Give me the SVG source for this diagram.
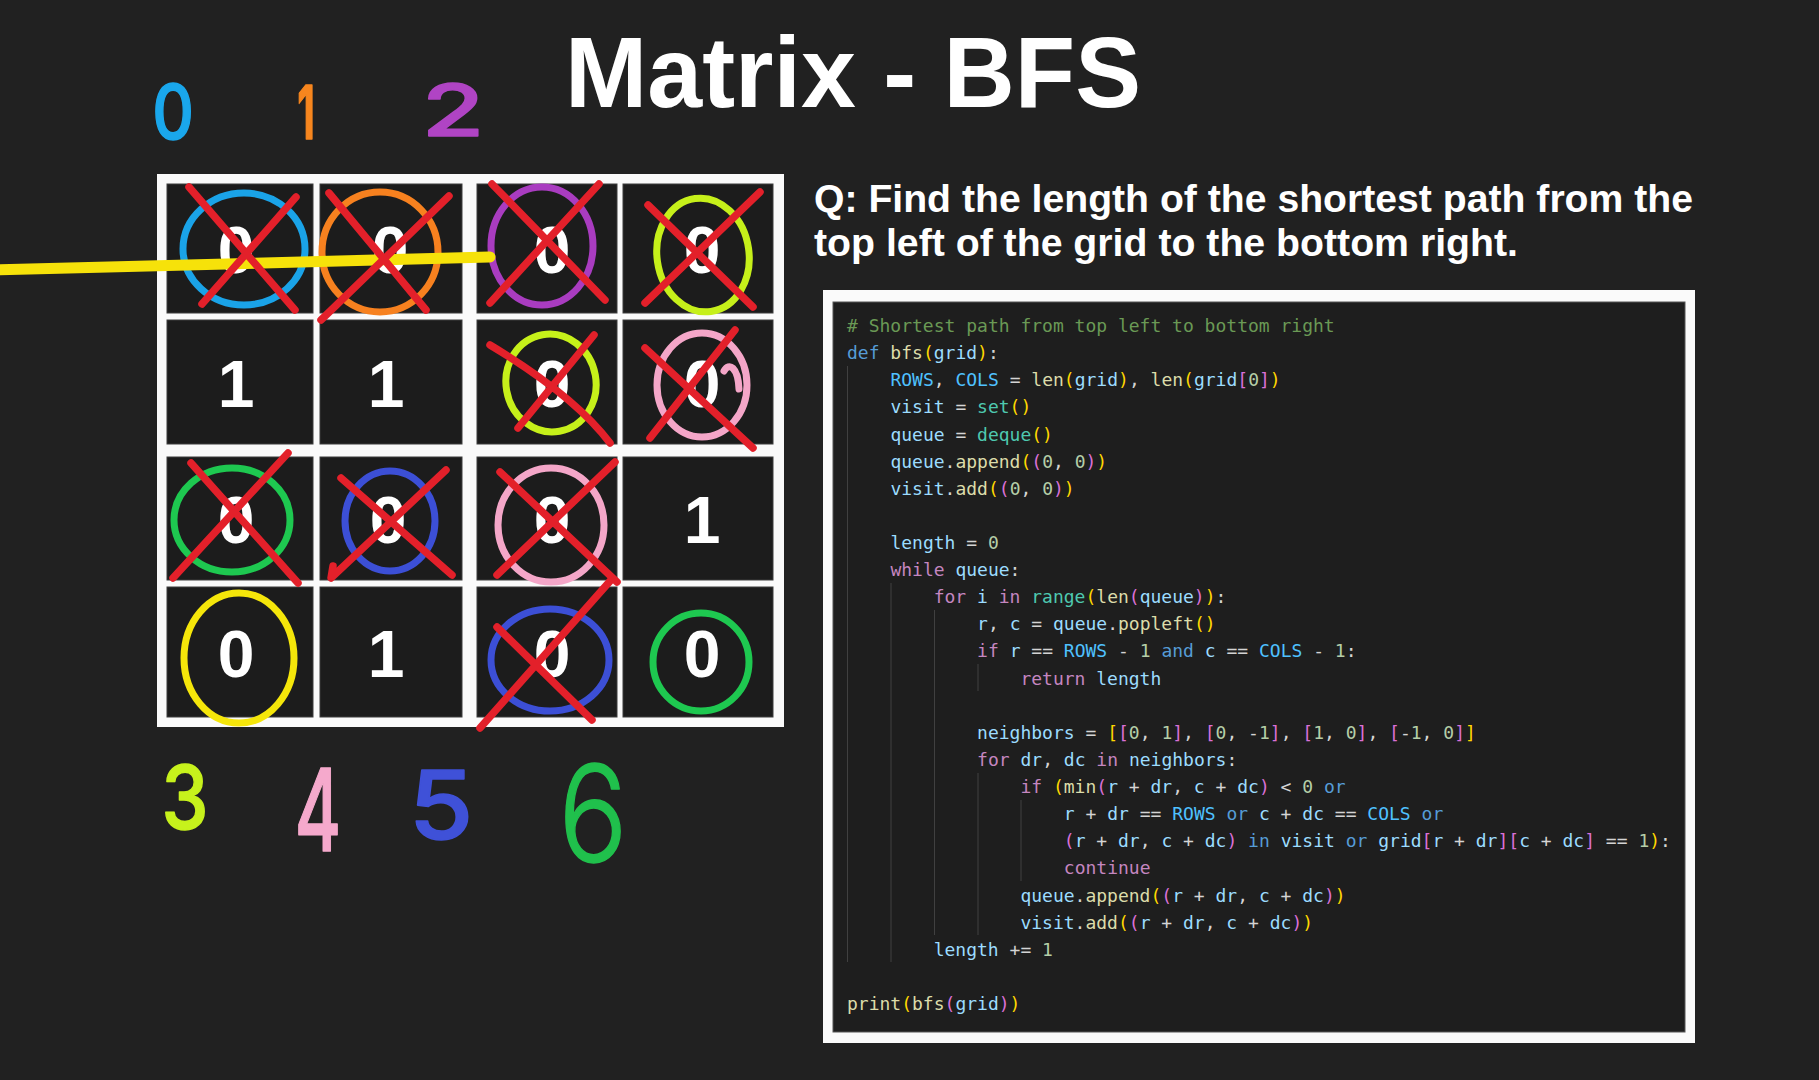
<svg xmlns="http://www.w3.org/2000/svg" width="1819" height="1080" viewBox="0 0 1819 1080">
  <style>
    .title { font-family: "Liberation Sans", Arial, sans-serif; font-weight: bold; fill: #ffffff; }
    .cellbg { fill: #1c1c1c; stroke: #3c3c3c; stroke-width: 1; }
    .digit { font-family: "Liberation Sans", Arial, sans-serif; font-weight: bold; font-size: 66px; fill: #ffffff; text-anchor: middle; }
    .hand { font-family: Inter, "DejaVu Sans", sans-serif; text-anchor: middle; stroke-width: 1.5; stroke-linejoin: round; }
    .ring { fill: none; stroke-width: 7; stroke-linecap: round; }
    .x { fill: none; stroke: #e3202a; stroke-width: 7.5; stroke-linecap: round; stroke-linejoin: round; }
    .code { font-family: "DejaVu Sans Mono", "Liberation Mono", monospace; font-size: 18px; white-space: pre; }
    .guide { stroke: #404040; stroke-width: 1; }
    .cm { fill: #6a9955; } .kw { fill: #569cd6; } .ct { fill: #c586c0; } .fn { fill: #dcdcaa; }
    .cl { fill: #4ec9b0; } .v { fill: #9cdcfe; } .k { fill: #4fc1ff; } .n { fill: #b5cea8; }
    .o { fill: #d4d4d4; } .b1 { fill: #ffd700; } .b2 { fill: #da70d6; }
  </style>

  <rect width="1819" height="1080" fill="#212121"/>

  <!-- heading -->
  <text class="title" x="565" y="107" font-size="100" textLength="576" lengthAdjust="spacingAndGlyphs">Matrix - BFS</text>

  <!-- column / step labels written by hand -->
  <g id="labels-top">
    <text class="hand" x="173" y="139" font-size="76" font-weight="500" fill="#1aa7ec" stroke="#1aa7ec" transform="translate(173 139) scale(0.85 1) translate(-173 -139)">0</text>
    <text class="hand" x="306" y="139" font-size="74" font-weight="700" fill="#f7861e" stroke="#f7861e" transform="translate(306 139) scale(0.55 1) translate(-306 -139)">1</text>
    <text class="hand" x="453" y="136" font-size="72" font-weight="450" fill="#b044c4" stroke="#b044c4" transform="translate(453 136) scale(1.4 1) translate(-453 -136)">2</text>
  </g>
  <g id="labels-bottom">
    <text class="hand" x="185" y="829" font-size="88" font-weight="450" fill="#c7f21c" stroke="#c7f21c" transform="translate(185 829) scale(0.85 1) translate(-185 -829)">3</text>
    <text class="hand" x="318" y="851" font-size="114" font-weight="450" fill="#f5a9cc" stroke="#f5a9cc" transform="translate(318 851) scale(0.62 1) translate(-318 -851)">4</text>
    <text class="hand" x="441" y="839" font-size="95" font-weight="450" fill="#3f51d8" stroke="#3f51d8" transform="translate(441 839) scale(1.1 1) translate(-441 -839)">5</text>
    <text class="hand" x="593" y="862" font-size="135" font-weight="350" fill="#20c04c" stroke="#20c04c" transform="translate(593 862) scale(0.85 1) translate(-593 -862)">6</text>
  </g>

  <!-- grid frame -->
  <rect x="157" y="174" width="627" height="553" fill="#fafafa"/>

  <!-- row 0 -->
  <g id="cell-0-0">
    <rect class="cellbg" x="167" y="184" width="146" height="129"/>
    <text class="digit" x="236" y="273">0</text>
    <ellipse class="ring" cx="244" cy="249" rx="61" ry="56" stroke="#1aa3e8"/>
  </g>
  <g id="cell-0-1">
    <rect class="cellbg" x="320" y="184" width="142" height="129"/>
    <text class="digit" x="390" y="273">0</text>
    <ellipse class="ring" cx="380" cy="252" rx="58" ry="60" stroke="#f7811f"/>
  </g>
  <g id="cell-0-2">
    <rect class="cellbg" x="477" y="184" width="140" height="129"/>
    <text class="digit" x="552" y="273">0</text>
    <ellipse class="ring" cx="542" cy="246" rx="51" ry="59" stroke="#a93cc0"/>
  </g>
  <g id="cell-0-3">
    <rect class="cellbg" x="623" y="184" width="150" height="129"/>
    <text class="digit" x="702" y="273">0</text>
    <ellipse class="ring" cx="703" cy="255" rx="46" ry="57" stroke="#c6f01a" transform="rotate(-8 703 255)"/>
  </g>

  <!-- row 1 -->
  <g id="cell-1-0">
    <rect class="cellbg" x="167" y="320" width="146" height="124"/>
    <text class="digit" x="236" y="407">1</text>
  </g>
  <g id="cell-1-1">
    <rect class="cellbg" x="320" y="320" width="142" height="124"/>
    <text class="digit" x="386" y="407">1</text>
  </g>
  <g id="cell-1-2">
    <rect class="cellbg" x="477" y="320" width="140" height="124"/>
    <text class="digit" x="552" y="407">0</text>
    <ellipse class="ring" cx="551" cy="383" rx="45" ry="49" stroke="#c6f01a" transform="rotate(-10 551 383)"/>
  </g>
  <g id="cell-1-3">
    <rect class="cellbg" x="623" y="320" width="150" height="124"/>
    <text class="digit" x="702" y="407">0</text>
    <ellipse class="ring" cx="702" cy="385" rx="45" ry="52" stroke="#f4a6c8"/>
    <path class="ring" stroke="#f4a6c8" d="M724,371 C729,362 738,367 739,389"/>
  </g>

  <!-- row 2 -->
  <g id="cell-2-0">
    <rect class="cellbg" x="167" y="457" width="146" height="123"/>
    <text class="digit" x="236" y="543">0</text>
    <ellipse class="ring" cx="232" cy="520" rx="58" ry="52" stroke="#1ec850"/>
  </g>
  <g id="cell-2-1">
    <rect class="cellbg" x="320" y="457" width="142" height="123"/>
    <text class="digit" x="388" y="543">0</text>
    <ellipse class="ring" cx="390" cy="521" rx="45" ry="50" stroke="#3c4fd6"/>
  </g>
  <g id="cell-2-2">
    <rect class="cellbg" x="477" y="457" width="140" height="123"/>
    <text class="digit" x="552" y="543">0</text>
    <ellipse class="ring" cx="551" cy="525" rx="53" ry="57" stroke="#f4a6c8"/>
  </g>
  <g id="cell-2-3">
    <rect class="cellbg" x="623" y="457" width="150" height="123"/>
    <text class="digit" x="702" y="543">1</text>
  </g>

  <!-- row 3 -->
  <g id="cell-3-0">
    <rect class="cellbg" x="167" y="587" width="146" height="130"/>
    <text class="digit" x="236" y="677">0</text>
    <ellipse class="ring" cx="239" cy="658" rx="55" ry="65" stroke="#f5e60a"/>
  </g>
  <g id="cell-3-1">
    <rect class="cellbg" x="320" y="587" width="142" height="130"/>
    <text class="digit" x="386" y="677">1</text>
  </g>
  <g id="cell-3-2">
    <rect class="cellbg" x="477" y="587" width="140" height="130"/>
    <text class="digit" x="552" y="677">0</text>
    <ellipse class="ring" cx="550" cy="660" rx="59" ry="51" stroke="#3c4fd6"/>
  </g>
  <g id="cell-3-3">
    <rect class="cellbg" x="623" y="587" width="150" height="130"/>
    <text class="digit" x="702" y="677">0</text>
    <ellipse class="ring" cx="701" cy="662" rx="48" ry="49" stroke="#1ec850"/>
  </g>

  <!-- traced path and crossing-out strokes -->
  <g id="connectors">
    <path d="M-5,270 C150,266 320,261 490,257" fill="none" stroke="#f6e20a" stroke-width="11" stroke-linecap="round"/>
    <g id="crosses">
      <path class="x" d="M189,187 L295,310 M296,197 L202,304"/>
      <path class="x" d="M329,193 L426,310 M449,196 L321,320"/>
      <path class="x" d="M492,184 L605,300 M599,184 L490,303"/>
      <path class="x" d="M648,205 L753,307 M760,192 L645,303"/>
      <path class="x" d="M490,345 C540,375 585,410 610,443 M594,335 L518,428"/>
      <path class="x" d="M645,348 L753,448 M735,330 L650,438"/>
      <path class="x" d="M191,463 L298,583 M288,453 L173,578"/>
      <path class="x" d="M341,478 L452,575 M446,470 L331,578 L333,566"/>
      <path class="x" d="M500,472 L617,582 M615,462 L497,575"/>
      <path class="x" d="M497,627 L592,720 M611,580 L480,728"/>
    </g>
  </g>

  <!-- problem statement -->
  <text class="title" x="814" y="212" font-size="39" textLength="879" lengthAdjust="spacingAndGlyphs">Q: Find the length of the shortest path from the</text>
  <text class="title" x="814" y="256" font-size="39" textLength="704" lengthAdjust="spacingAndGlyphs">top left of the grid to the bottom right.</text>

  <!-- code panel -->
  <g id="code-panel">
    <rect x="823" y="290" width="872" height="753" fill="#fafafa"/>
    <rect x="833" y="302" width="852" height="730" fill="#1e1e1e" stroke="#555555" stroke-width="1"/>
    <g id="indent-guides">
      <line class="guide" x1="847.5" y1="366" x2="847.5" y2="962"/>
      <line class="guide" x1="891" y1="583" x2="891" y2="962"/>
      <line class="guide" x1="934.5" y1="610" x2="934.5" y2="935"/>
      <line class="guide" x1="978" y1="664" x2="978" y2="691"/>
      <line class="guide" x1="978" y1="773" x2="978" y2="935"/>
      <line class="guide" x1="1021" y1="800" x2="1021" y2="881"/>
    </g>
    <g class="code">
      <text x="847" y="332" xml:space="preserve"><tspan class="cm"># Shortest path from top left to bottom right</tspan></text>
      <text x="847" y="359.1" xml:space="preserve"><tspan class="kw">def</tspan><tspan class="o"> </tspan><tspan class="fn">bfs</tspan><tspan class="b1">(</tspan><tspan class="v">grid</tspan><tspan class="b1">)</tspan><tspan class="o">:</tspan></text>
      <text x="890.4" y="386.2" xml:space="preserve"><tspan class="k">ROWS</tspan><tspan class="o">, </tspan><tspan class="k">COLS</tspan><tspan class="o"> = </tspan><tspan class="fn">len</tspan><tspan class="b1">(</tspan><tspan class="v">grid</tspan><tspan class="b1">)</tspan><tspan class="o">, </tspan><tspan class="fn">len</tspan><tspan class="b1">(</tspan><tspan class="v">grid</tspan><tspan class="b2">[</tspan><tspan class="n">0</tspan><tspan class="b2">]</tspan><tspan class="b1">)</tspan></text>
      <text x="890.4" y="413.4" xml:space="preserve"><tspan class="v">visit</tspan><tspan class="o"> = </tspan><tspan class="cl">set</tspan><tspan class="b1">()</tspan></text>
      <text x="890.4" y="440.5" xml:space="preserve"><tspan class="v">queue</tspan><tspan class="o"> = </tspan><tspan class="cl">deque</tspan><tspan class="b1">()</tspan></text>
      <text x="890.4" y="467.6" xml:space="preserve"><tspan class="v">queue</tspan><tspan class="o">.</tspan><tspan class="fn">append</tspan><tspan class="b1">(</tspan><tspan class="b2">(</tspan><tspan class="n">0</tspan><tspan class="o">, </tspan><tspan class="n">0</tspan><tspan class="b2">)</tspan><tspan class="b1">)</tspan></text>
      <text x="890.4" y="494.7" xml:space="preserve"><tspan class="v">visit</tspan><tspan class="o">.</tspan><tspan class="fn">add</tspan><tspan class="b1">(</tspan><tspan class="b2">(</tspan><tspan class="n">0</tspan><tspan class="o">, </tspan><tspan class="n">0</tspan><tspan class="b2">)</tspan><tspan class="b1">)</tspan></text>
      <text x="890.4" y="549" xml:space="preserve"><tspan class="v">length</tspan><tspan class="o"> = </tspan><tspan class="n">0</tspan></text>
      <text x="890.4" y="576.1" xml:space="preserve"><tspan class="ct">while</tspan><tspan class="o"> </tspan><tspan class="v">queue</tspan><tspan class="o">:</tspan></text>
      <text x="933.7" y="603.2" xml:space="preserve"><tspan class="ct">for</tspan><tspan class="o"> </tspan><tspan class="v">i</tspan><tspan class="o"> </tspan><tspan class="ct">in</tspan><tspan class="o"> </tspan><tspan class="cl">range</tspan><tspan class="b1">(</tspan><tspan class="fn">len</tspan><tspan class="b2">(</tspan><tspan class="v">queue</tspan><tspan class="b2">)</tspan><tspan class="b1">)</tspan><tspan class="o">:</tspan></text>
      <text x="977.1" y="630.3" xml:space="preserve"><tspan class="v">r</tspan><tspan class="o">, </tspan><tspan class="v">c</tspan><tspan class="o"> = </tspan><tspan class="v">queue</tspan><tspan class="o">.</tspan><tspan class="fn">popleft</tspan><tspan class="b1">()</tspan></text>
      <text x="977.1" y="657.4" xml:space="preserve"><tspan class="ct">if</tspan><tspan class="o"> </tspan><tspan class="v">r</tspan><tspan class="o"> == </tspan><tspan class="k">ROWS</tspan><tspan class="o"> - </tspan><tspan class="n">1</tspan><tspan class="o"> </tspan><tspan class="kw">and</tspan><tspan class="o"> </tspan><tspan class="v">c</tspan><tspan class="o"> == </tspan><tspan class="k">COLS</tspan><tspan class="o"> - </tspan><tspan class="n">1</tspan><tspan class="o">:</tspan></text>
      <text x="1020.4" y="684.6" xml:space="preserve"><tspan class="ct">return</tspan><tspan class="o"> </tspan><tspan class="v">length</tspan></text>
      <text x="977.1" y="738.8" xml:space="preserve"><tspan class="v">neighbors</tspan><tspan class="o"> = </tspan><tspan class="b1">[</tspan><tspan class="b2">[</tspan><tspan class="n">0</tspan><tspan class="o">, </tspan><tspan class="n">1</tspan><tspan class="b2">]</tspan><tspan class="o">, </tspan><tspan class="b2">[</tspan><tspan class="n">0</tspan><tspan class="o">, -</tspan><tspan class="n">1</tspan><tspan class="b2">]</tspan><tspan class="o">, </tspan><tspan class="b2">[</tspan><tspan class="n">1</tspan><tspan class="o">, </tspan><tspan class="n">0</tspan><tspan class="b2">]</tspan><tspan class="o">, </tspan><tspan class="b2">[</tspan><tspan class="o">-</tspan><tspan class="n">1</tspan><tspan class="o">, </tspan><tspan class="n">0</tspan><tspan class="b2">]</tspan><tspan class="b1">]</tspan></text>
      <text x="977.1" y="765.9" xml:space="preserve"><tspan class="ct">for</tspan><tspan class="o"> </tspan><tspan class="v">dr</tspan><tspan class="o">, </tspan><tspan class="v">dc</tspan><tspan class="o"> </tspan><tspan class="ct">in</tspan><tspan class="o"> </tspan><tspan class="v">neighbors</tspan><tspan class="o">:</tspan></text>
      <text x="1020.4" y="793" xml:space="preserve"><tspan class="ct">if</tspan><tspan class="o"> </tspan><tspan class="b1">(</tspan><tspan class="fn">min</tspan><tspan class="b2">(</tspan><tspan class="v">r</tspan><tspan class="o"> + </tspan><tspan class="v">dr</tspan><tspan class="o">, </tspan><tspan class="v">c</tspan><tspan class="o"> + </tspan><tspan class="v">dc</tspan><tspan class="b2">)</tspan><tspan class="o"> &lt; </tspan><tspan class="n">0</tspan><tspan class="o"> </tspan><tspan class="kw">or</tspan></text>
      <text x="1063.8" y="820.2" xml:space="preserve"><tspan class="v">r</tspan><tspan class="o"> + </tspan><tspan class="v">dr</tspan><tspan class="o"> == </tspan><tspan class="k">ROWS</tspan><tspan class="o"> </tspan><tspan class="kw">or</tspan><tspan class="o"> </tspan><tspan class="v">c</tspan><tspan class="o"> + </tspan><tspan class="v">dc</tspan><tspan class="o"> == </tspan><tspan class="k">COLS</tspan><tspan class="o"> </tspan><tspan class="kw">or</tspan></text>
      <text x="1063.8" y="847.3" xml:space="preserve"><tspan class="b2">(</tspan><tspan class="v">r</tspan><tspan class="o"> + </tspan><tspan class="v">dr</tspan><tspan class="o">, </tspan><tspan class="v">c</tspan><tspan class="o"> + </tspan><tspan class="v">dc</tspan><tspan class="b2">)</tspan><tspan class="o"> </tspan><tspan class="kw">in</tspan><tspan class="o"> </tspan><tspan class="v">visit</tspan><tspan class="o"> </tspan><tspan class="kw">or</tspan><tspan class="o"> </tspan><tspan class="v">grid</tspan><tspan class="b2">[</tspan><tspan class="v">r</tspan><tspan class="o"> + </tspan><tspan class="v">dr</tspan><tspan class="b2">][</tspan><tspan class="v">c</tspan><tspan class="o"> + </tspan><tspan class="v">dc</tspan><tspan class="b2">]</tspan><tspan class="o"> == </tspan><tspan class="n">1</tspan><tspan class="b1">)</tspan><tspan class="o">:</tspan></text>
      <text x="1063.8" y="874.4" xml:space="preserve"><tspan class="ct">continue</tspan></text>
      <text x="1020.4" y="901.5" xml:space="preserve"><tspan class="v">queue</tspan><tspan class="o">.</tspan><tspan class="fn">append</tspan><tspan class="b1">(</tspan><tspan class="b2">(</tspan><tspan class="v">r</tspan><tspan class="o"> + </tspan><tspan class="v">dr</tspan><tspan class="o">, </tspan><tspan class="v">c</tspan><tspan class="o"> + </tspan><tspan class="v">dc</tspan><tspan class="b2">)</tspan><tspan class="b1">)</tspan></text>
      <text x="1020.4" y="928.6" xml:space="preserve"><tspan class="v">visit</tspan><tspan class="o">.</tspan><tspan class="fn">add</tspan><tspan class="b1">(</tspan><tspan class="b2">(</tspan><tspan class="v">r</tspan><tspan class="o"> + </tspan><tspan class="v">dr</tspan><tspan class="o">, </tspan><tspan class="v">c</tspan><tspan class="o"> + </tspan><tspan class="v">dc</tspan><tspan class="b2">)</tspan><tspan class="b1">)</tspan></text>
      <text x="933.7" y="955.8" xml:space="preserve"><tspan class="v">length</tspan><tspan class="o"> += </tspan><tspan class="n">1</tspan></text>
      <text x="847" y="1010" xml:space="preserve"><tspan class="fn">print</tspan><tspan class="b1">(</tspan><tspan class="fn">bfs</tspan><tspan class="b2">(</tspan><tspan class="v">grid</tspan><tspan class="b2">)</tspan><tspan class="b1">)</tspan></text>
    </g>
  </g>
</svg>
